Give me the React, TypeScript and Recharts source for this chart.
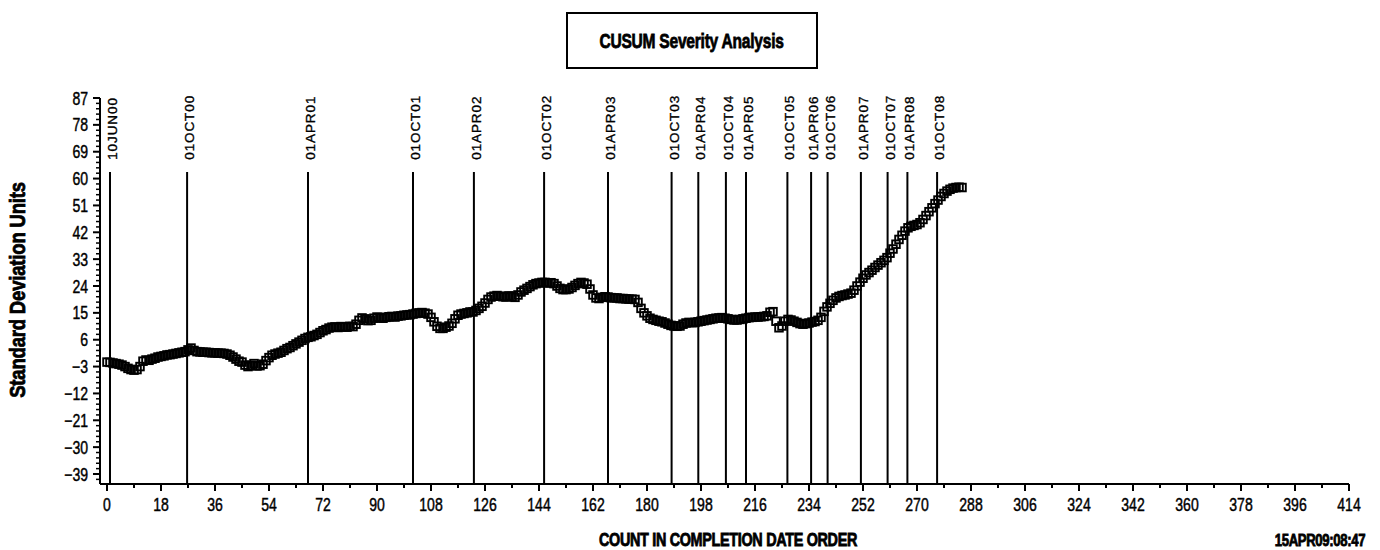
import React from 'react';
import { ComposedChart, Scatter, XAxis, YAxis, ReferenceLine } from 'recharts';

// CUSUM value for each completion (count 0..285)
const cusumValues = [
  -1.5, -1.6, -1.8, -2.0, -2.2, -2.5, -3.0, -3.6, -4.0, -4.2,
  -4.0, -3.0, -1.2, -0.8, -0.9, -0.5, -0.2, 0.2, 0.4, 0.6,
  0.9, 1.0, 1.2, 1.4, 1.6, 1.8, 2.0, 2.6, 3.2, 2.4,
  2.0, 1.9, 1.8, 1.8, 1.7, 1.6, 1.6, 1.5, 1.5, 1.4,
  1.2, 0.8, 0.2, -0.5, -1.2, -1.5, -2.5, -3.0, -2.6, -2.0,
  -2.8, -2.7, -2.2, -1.0, 0.0, 0.8, 1.2, 1.5, 1.8, 2.4,
  3.0, 3.4, 4.0, 4.6, 5.2, 5.8, 6.4, 6.8, 7.0, 7.4,
  7.8, 8.4, 9.0, 9.4, 9.9, 10.2, 10.3, 10.1, 10.4, 10.3,
  10.2, 10.5, 10.4, 11.2, 12.5, 13.3, 13.0, 12.4, 12.5, 13.2,
  13.6, 13.4, 13.2, 13.5, 13.7, 13.8, 13.6, 13.9, 14.0, 14.2,
  14.3, 14.4, 14.6, 14.8, 15.0, 15.1, 14.9, 14.6, 13.5, 12.0,
  10.5, 9.8, 9.8, 10.2, 10.6, 11.5, 13.0, 14.2, 14.6, 14.8,
  15.0, 15.3, 15.3, 15.8, 16.5, 17.2, 18.3, 19.5, 20.3, 20.6,
  20.8, 20.6, 20.4, 20.3, 20.7, 20.5, 20.2, 21.0, 22.0, 22.6,
  23.2, 23.8, 24.4, 24.8, 25.0, 25.2, 25.2, 25.0, 25.1, 24.8,
  24.0, 23.2, 22.8, 22.8, 23.0, 23.5, 24.2, 24.8, 25.2, 25.0,
  24.6, 23.0, 21.0, 20.0, 19.8, 20.2, 20.4, 20.3, 20.1, 20.0,
  20.0, 19.8, 19.8, 19.7, 19.6, 19.6, 19.5, 18.5, 16.5, 15.0,
  14.0, 13.2, 12.8, 12.5, 12.2, 12.0, 11.6, 11.2, 10.8, 10.6,
  10.5, 10.6, 11.2, 11.6, 11.8, 11.7, 11.8, 12.0, 12.2, 12.4,
  12.6, 12.8, 13.0, 13.2, 13.3, 13.4, 13.2, 13.0, 12.8, 12.6,
  12.6, 12.8, 13.0, 13.2, 13.4, 13.5, 13.6, 13.6, 13.7, 13.8,
  14.0, 15.2, 15.4, 12.2, 10.0, 10.6, 12.2, 12.8, 12.6, 12.2,
  11.8, 11.4, 11.2, 11.4, 11.6, 11.9, 12.1, 12.5, 13.5, 15.5,
  17.0, 18.2, 19.2, 20.0, 20.5, 20.8, 21.0, 21.3, 21.6, 22.6,
  24.0, 25.3, 26.6, 27.7, 28.5, 29.3, 30.2, 31.0, 31.8, 32.6,
  33.5, 35.0, 36.4, 38.0, 39.6, 41.0, 42.4, 43.5, 44.0, 44.3,
  44.6, 45.2, 46.3, 47.6, 48.9, 50.2, 51.6, 52.8, 54.0, 55.0,
  55.8, 56.4, 56.8, 57.0, 57.1, 57.0,
];

// Date reference lines (position in count order)
const eventCounts = [1, 26.7, 67, 102, 122.3, 145.7, 167, 188.2, 197.1, 206.3, 213, 226.8, 234.7, 240.2, 251.3, 260.2, 266.8, 276.7];
const eventLabels = ['10JUN00', '01OCT00', '01APR01', '01OCT01', '01APR02', '01OCT02', '01APR03', '01OCT03', '01APR04', '01OCT04', '01APR05', '01OCT05', '01APR06', '01OCT06', '01APR07', '01OCT07', '01APR08', '01OCT08'];

const xMajorTicks = [0, 18, 36, 54, 72, 90, 108, 126, 144, 162, 180, 198, 216, 234, 252, 270, 288, 306, 324, 342, 360, 378, 396, 414];
const yMajorTicks = [-39, -30, -21, -12, -3, 6, 15, 24, 33, 42, 51, 60, 69, 78, 87];

const X_DOMAIN: [number, number] = [-2.333, 414];
const Y_DOMAIN: [number, number] = [-42.35, 87];
const LINE_TOP = 62.2;
const LABEL_BASE = 66.3;

const xMinorTicks = xMajorTicks.slice(0, -1).map((t) => t + 9);
const yMinorTicks: number[] = [];
yMajorTicks.forEach((t, i) => {
  if (i < yMajorTicks.length - 1) {
    for (let k = 1; k <= 4; k++) yMinorTicks.push(+(t + 1.8 * k).toFixed(2));
  }
});
yMinorTicks.push(-40.8);

const xAllTicks = [...xMajorTicks, ...xMinorTicks].sort((a, b) => a - b);
const yAllTicks = [...yMajorTicks, ...yMinorTicks].sort((a, b) => a - b);

const points = cusumValues.map((v, i) => ({ x: i, y: v }));
const eventPoints = eventCounts.map((c, i) => ({ x: c, y: LABEL_BASE, label: eventLabels[i] }));

const FONT = "'Liberation Sans', Arial, Helvetica, sans-serif";

const fmt = (v: number) => (v < 0 ? '\u2212' + Math.abs(v) : String(v));

const XTick = (props: any) => {
  const { x, y, payload } = props;
  const v = payload.value;
  const major = xMajorTicks.includes(v);
  return (
    <g>
      <line x1={x} x2={x} y1={y} y2={y + (major ? 7 : 4)} stroke="#000" strokeWidth={2} />
      {major && (
        <text
          transform={`translate(${x}, ${y + 27}) scale(0.78, 1)`}
          x={0}
          y={0}
          textAnchor="middle"
          fontFamily={FONT}
          fontSize={18}
          fill="#000"
          stroke="#000"
          strokeWidth={0.45}
        >
          {fmt(v)}
        </text>
      )}
    </g>
  );
};

const YTick = (props: any) => {
  const { x, y, payload } = props;
  const v = payload.value;
  const major = yMajorTicks.includes(v);
  return (
    <g>
      <line x1={x - (major ? 7 : 4)} x2={x} y1={y} y2={y} stroke="#000" strokeWidth={major ? 2 : 1.5} />
      {major && (
        <text
          transform={`translate(${x - 12}, ${y + 6.5}) scale(0.78, 1)`}
          x={0}
          y={0}
          textAnchor="end"
          fontFamily={FONT}
          fontSize={18}
          fill="#000"
          stroke="#000"
          strokeWidth={0.45}
        >
          {fmt(v)}
        </text>
      )}
    </g>
  );
};

const SquareMarker = (props: any) => {
  const { cx, cy } = props;
  if (cx == null || cy == null) return <g />;
  return <rect x={cx - 3.8} y={cy - 3.8} width={7.6} height={7.6} fill="none" stroke="#000" strokeWidth={1.9} />;
};

const EventLabel = (props: any) => {
  const { cx, cy, payload } = props;
  if (cx == null || cy == null) return <g />;
  const tx = cx + 7;
  return (
    <text
      x={tx}
      y={cy}
      transform={`rotate(-90, ${tx}, ${cy})`}
      textAnchor="start"
      fontFamily={FONT}
      fontSize={13.5}
      letterSpacing={0.9}
      fill="#000"
      stroke="#000"
      strokeWidth={0.35}
    >
      {payload.label}
    </text>
  );
};

const heavy: React.CSSProperties = {
  whiteSpace: 'nowrap',
  fontFamily: FONT,
  fontWeight: 700,
  color: '#000',
  WebkitTextStroke: '0.8px #000',
  lineHeight: 1,
};

export default function App() {
  return (
    <div style={{ position: 'absolute', left: 0, top: 0, width: 1380, height: 550, background: '#fff', overflow: 'hidden' }}>
      <ComposedChart width={1380} height={550} margin={{ top: 98, right: 31, bottom: 36, left: 0 }}>
        <XAxis
          type="number"
          dataKey="x"
          domain={X_DOMAIN}
          ticks={xAllTicks}
          interval={0}
          axisLine={{ stroke: '#000', strokeWidth: 2 }}
          tickLine={false}
          tickSize={0}
          tickMargin={0}
          tick={<XTick />}
          height={30}
        />
        <YAxis
          type="number"
          dataKey="y"
          domain={Y_DOMAIN}
          ticks={yAllTicks}
          interval={0}
          axisLine={{ stroke: '#000', strokeWidth: 2 }}
          tickLine={false}
          tickSize={0}
          tickMargin={0}
          tick={<YTick />}
          width={100}
        />
        {eventCounts.map((c) => (
          <ReferenceLine
            key={c}
            segment={[{ x: c, y: LINE_TOP }, { x: c, y: Y_DOMAIN[0] }]}
            stroke="#000"
            strokeWidth={2}
          />
        ))}
        <Scatter data={eventPoints} dataKey="y" shape={<EventLabel />} isAnimationActive={false} />
        <Scatter data={points} dataKey="y" shape={<SquareMarker />} isAnimationActive={false} />
      </ComposedChart>

      <div
        style={{
          position: 'absolute', left: 566, top: 12, width: 248, height: 53,
          border: '2px solid #000', display: 'flex', alignItems: 'center', justifyContent: 'center',
        }}
      >
        <div style={{ ...heavy, fontSize: 21, transform: 'scaleX(0.74)', letterSpacing: -0.3 }}>
          CUSUM Severity Analysis
        </div>
      </div>

      <div style={{ position: 'absolute', left: 18, top: 290, width: 0, height: 0 }}>
        <div
          style={{
            ...heavy, position: 'absolute', left: 0, top: 0, fontSize: 22, letterSpacing: -0.2,
            transform: 'translate(-50%, -50%) rotate(-90deg) scaleX(0.84)',
          }}
        >
          Standard Deviation Units
        </div>
      </div>

      <div style={{ position: 'absolute', left: 728, top: 540, width: 0, height: 0 }}>
        <div
          style={{
            ...heavy, position: 'absolute', left: 0, top: 0, fontSize: 18, letterSpacing: -0.4,
            transform: 'translate(-50%, -50%) scaleX(0.8)',
          }}
        >
          COUNT IN COMPLETION DATE ORDER
        </div>
      </div>

      <div style={{ position: 'absolute', left: 1320, top: 541, width: 0, height: 0 }}>
        <div
          style={{
            ...heavy, position: 'absolute', left: 0, top: 0, fontSize: 16, letterSpacing: -0.4,
            transform: 'translate(-50%, -50%) scaleX(0.82)',
          }}
        >
          15APR09:08:47
        </div>
      </div>
    </div>
  );
}
